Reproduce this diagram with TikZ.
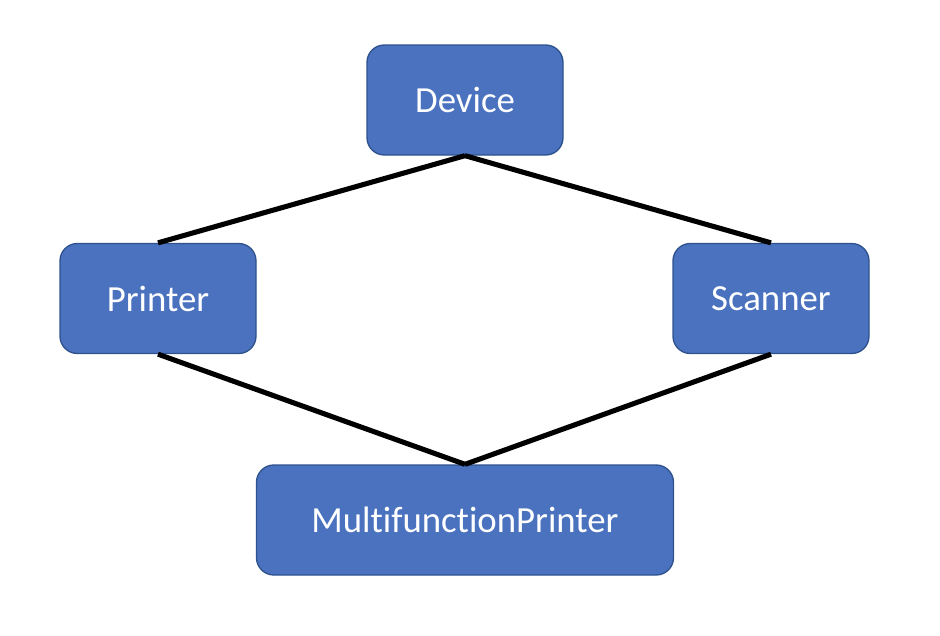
\documentclass[tikz,border=0pt]{standalone}
\usepackage{fontspec}
\setmainfont[Ligatures=NoCommon]{Carlito}
\usepackage{tikz}
\usetikzlibrary{calc}

\definecolor{boxblue}{HTML}{4A72BF}
\definecolor{boxedge}{HTML}{2F528F}

\begin{document}
\begin{tikzpicture}[x=0.75pt, y=-0.75pt,
  classbox/.style={draw=boxedge, fill=boxblue, line width=1pt, rounded corners=13pt,
    minimum height=82.5pt, minimum width=147pt, text=white, font=\fontsize{27.6}{32}\selectfont},
  link/.style={black, line width=3.8pt}]
\useasboundingbox (0,0) rectangle (940,636);

%the classes
\node [classbox] (device) at (465,100) {Device};
\node [classbox] (printer) at (158,298.5) {Printer};
\node [classbox] (scanner) at (771,298.5) {Scanner};
\node [classbox, minimum width=312.75pt] (mfp) at (465,520) {MultifunctionPrinter};

%the links
\draw [link] (device.south) -- (printer.north);
\draw [link] (device.south) -- (scanner.north);
\draw [link] (printer.south) -- (mfp.north);
\draw [link] (scanner.south) -- (mfp.north);
\end{tikzpicture}
\end{document}
